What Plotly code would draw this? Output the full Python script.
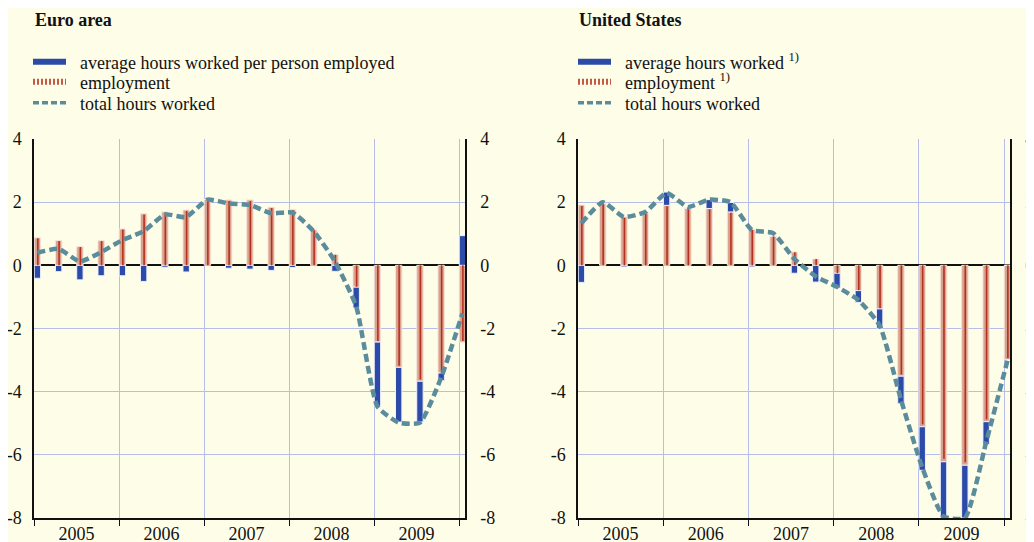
import plotly.graph_objects as go

# quarterly data, annual percentage changes
quarters = ["2005Q1", "2005Q2", "2005Q3", "2005Q4",
            "2006Q1", "2006Q2", "2006Q3", "2006Q4",
            "2007Q1", "2007Q2", "2007Q3", "2007Q4",
            "2008Q1", "2008Q2", "2008Q3", "2008Q4",
            "2009Q1", "2009Q2", "2009Q3", "2009Q4",
            "2010Q1"]
years = [2005, 2006, 2007, 2008, 2009]
y_ticks = [-8, -6, -4, -2, 0, 2, 4]

euro_employment = [0.87, 0.78, 0.59, 0.78, 1.15, 1.63, 1.69, 1.75, 2.09, 2.07, 2.07, 1.84,
                   1.77, 1.13, 0.34, -0.69, -2.43, -3.23, -3.67, -3.41, -2.43]
euro_avg_hours = [-0.41, -0.20, -0.46, -0.33, -0.33, -0.51, -0.06, -0.21, 0.0, -0.09, -0.12, -0.16,
                  -0.07, 0.0, -0.19, -0.66, -2.03, -1.73, -1.29, -0.24, 0.94]
euro_total = [0.40, 0.52, 0.12, 0.42, 0.80, 1.08, 1.61, 1.53, 2.08, 1.96, 1.91, 1.65,
              1.67, 1.08, 0.12, -1.30, -4.47, -4.98, -4.98, -3.55, -1.52]

us_employment = [1.91, 1.96, 1.53, 1.66, 1.90, 1.80, 1.80, 1.69, 1.14, 0.93, 0.42, 0.20,
                 -0.25, -0.80, -1.38, -3.51, -5.11, -6.22, -6.33, -4.95, -2.98]
us_avg_hours = [-0.54, 0.0, -0.05, 0.03, 0.42, 0.03, 0.28, 0.30, -0.05, 0.0, -0.25, -0.53,
                -0.47, -0.37, -0.61, -0.87, -1.38, -1.78, -1.67, -0.72, 0.0]
us_total = [1.33, 2.00, 1.53, 1.69, 2.29, 1.85, 2.08, 2.00, 1.12, 1.02, 0.20, -0.35,
            -0.68, -1.10, -1.90, -4.25, -6.40, -7.95, -8.00, -5.60, -3.02]

euro_labels = ["average hours worked per person employed", "employment", "total hours worked"]
us_labels = ["average hours worked <sup>1)</sup>", "employment <sup>1)</sup>", "total hours worked"]

BG = "#fefde8"
BLUE = "#2c4ba8"
SALMON = "#d9a28d"
RED = "#b3321f"
TEAL = "#5b8c9c"
GRID = "#b6bdea"
FONT = "Liberation Serif"
INK = "#111111"

# the page body keeps its default 8px margin, so the figure is shifted by that much
OFF = 8
W, H = 1034 - OFF, 542 - OFF


def px_x(p):
    return (p - OFF) / W


def px_y(p):
    return 1 - (p - OFF) / H


# bars sit just right of the quarter start
xpos = [int(q[:4]) + (int(q[-1]) - 1) / 4 + 0.04 for q in quarters]

fig = go.Figure()
legends = {}


def add_panel(emp, hrs, tot, xa, ya, ya_right, labels, left_px, leg_no):
    fig.add_trace(go.Bar(x=xpos, y=emp, width=0.075, xaxis=xa, yaxis=ya,
                         marker=dict(color=SALMON, line=dict(color="#f6e2d8", width=1)),
                         showlegend=False))
    fig.add_trace(go.Bar(x=xpos, y=hrs, width=0.075, xaxis=xa, yaxis=ya,
                         marker=dict(color=BLUE, line=dict(color="#eef0ff", width=1)),
                         showlegend=False))
    # thin red stripe inside each employment bar
    sx, sy = [], []
    for x, v in zip(xpos, emp):
        sx += [x + 0.005, x + 0.005, None]
        sy += [0, v * 0.985, None]
    fig.add_trace(go.Scatter(x=sx, y=sy, mode="lines", xaxis=xa, yaxis=ya,
                             line=dict(color=RED, width=1.6), showlegend=False,
                             hoverinfo="skip"))
    fig.add_trace(go.Scatter(x=xpos, y=tot, mode="lines", xaxis=xa, yaxis=ya,
                             line=dict(color=TEAL, width=4.5, dash="8px,4px",
                                       shape="spline", smoothing=0.5),
                             showlegend=False))

    # legend entries, one small legend per row so rows can sit close together
    styles = [dict(color=BLUE, width=6),
              dict(color="#c65a47", width=6, dash="2px,2px"),
              dict(color=TEAL, width=3.5, dash="6px,3px")]
    rows = [62, 82, 103]
    for i in range(3):
        name = "legend" if leg_no == 1 else "legend%d" % leg_no
        fig.add_trace(go.Scatter(x=[None], y=[None], mode="lines", xaxis=xa, yaxis=ya,
                                 name="\u00a0\u00a0" + labels[i], legend=name,
                                 line=styles[i]))
        legends[name] = dict(x=px_x(left_px - 5), y=px_y(rows[i]),
                             xanchor="left", yanchor="middle",
                             bgcolor="rgba(0,0,0,0)", itemwidth=33,
                             font=dict(family=FONT, size=18, color=INK))
        leg_no += 1

    # empty trace so the right-hand axis is drawn
    fig.add_trace(go.Scatter(x=[None], y=[None], xaxis=xa, yaxis=ya_right,
                             showlegend=False))


add_panel(euro_employment, euro_avg_hours, euro_total, "x", "y", "y3", euro_labels, 33, 1)
add_panel(us_employment, us_avg_hours, us_total, "x2", "y2", "y4", us_labels, 578, 4)

ydom = [px_y(518), px_y(139)]
tickfont = dict(family=FONT, size=18, color=INK)
x_common = dict(
    range=[2005, 2010.07],
    tickvals=[y + 0.5 for y in years],
    ticktext=[str(y) for y in years],
    ticks="", ticklen=0, showgrid=False, zeroline=False,
    showline=True, linecolor=INK, linewidth=1.5,
    ticklabelstandoff=-1, automargin=False,
    minor=dict(tickvals=years + [2010], ticks="outside", ticklen=6, tickcolor=INK,
               tickwidth=1.3, showgrid=True, gridcolor=GRID, gridwidth=1.2),
    tickfont=tickfont, fixedrange=True,
)
y_common = dict(
    range=[-8, 4], tickvals=y_ticks, ticktext=[str(v) for v in y_ticks], domain=ydom,
    showgrid=True, gridcolor=GRID, gridwidth=1.2,
    zeroline=True, zerolinecolor=INK, zerolinewidth=1.5,
    showline=True, linecolor=INK, linewidth=1.5,
    ticks="", ticklabelstandoff=7, automargin=False,
    tickfont=tickfont, fixedrange=True,
)
y_right = dict(
    range=[-8, 4], tickvals=y_ticks, ticktext=[str(v) for v in y_ticks], side="right",
    showgrid=False, zeroline=False,
    showline=True, linecolor=INK, linewidth=1.5,
    ticks="", ticklabelstandoff=10, automargin=False,
    tickfont=tickfont, fixedrange=True,
)

fig.update_layout(
    width=W, height=H,
    margin=dict(l=0, r=0, t=0, b=0),
    paper_bgcolor=BG, plot_bgcolor=BG,
    barmode="relative",
    xaxis=dict(domain=[px_x(34), px_x(465)], anchor="y", **x_common),
    xaxis2=dict(domain=[px_x(578), px_x(1010)], anchor="y2", **x_common),
    yaxis=dict(anchor="x", **y_common),
    yaxis2=dict(anchor="x2", **y_common),
    yaxis3=dict(anchor="x", overlaying="y", **y_right),
    yaxis4=dict(anchor="x2", overlaying="y2", **y_right),
    annotations=[
        dict(text="<b>Euro area</b>", x=px_x(33), y=px_y(20), xref="paper", yref="paper",
             xanchor="left", yanchor="middle", showarrow=False,
             font=dict(family=FONT, size=18, color=INK)),
        dict(text="<b>United States</b>", x=px_x(577), y=px_y(20), xref="paper", yref="paper",
             xanchor="left", yanchor="middle", showarrow=False,
             font=dict(family=FONT, size=18, color=INK)),
    ],
    showlegend=True,
    **legends,
)

fig.write_html("out.html")
